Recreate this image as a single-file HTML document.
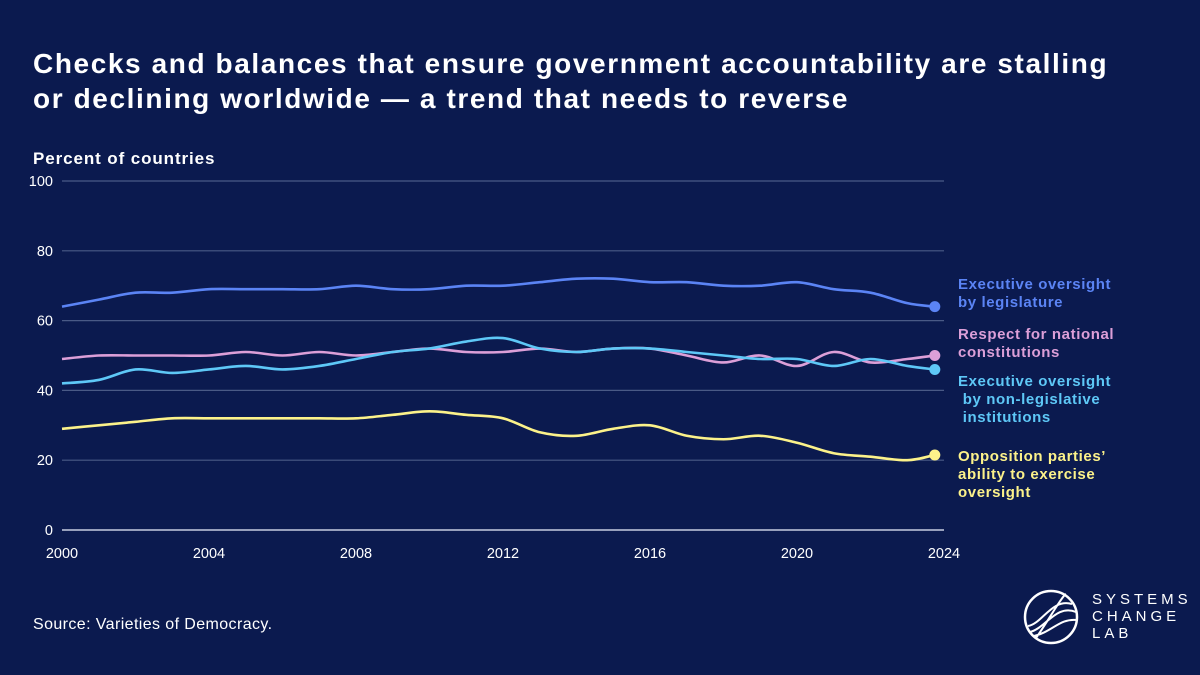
<!DOCTYPE html>
<html><head><meta charset="utf-8">
<style>
body{margin:0;width:1200px;height:675px;background:#0b1a4f;font-family:"Liberation Sans",sans-serif;overflow:hidden;position:relative;color:#fff}
h1{position:absolute;left:33px;top:46px;margin:0;font-size:28px;line-height:35px;font-weight:bold;letter-spacing:1.6px;white-space:nowrap}
.src{position:absolute;left:33px;top:616px;font-size:16px;letter-spacing:0.4px}
.lg{position:absolute;left:958px;font-size:15px;font-weight:bold;line-height:18px;letter-spacing:0.6px;white-space:nowrap}
</style></head><body>
<h1>Checks and balances that ensure government accountability are stalling<br>or declining worldwide — a trend that needs to reverse</h1>
<svg id="c" width="1200" height="675" style="position:absolute;left:0;top:0"></svg>
<div class="lg" style="top:276px;color:#5b84f5">Executive oversight<br>by legislature</div>
<div class="lg" style="top:326px;color:#dc9fd8">Respect for national<br>constitutions</div>
<div class="lg" style="top:373px;color:#5ec8f7">Executive oversight<br>&nbsp;by non-legislative<br>&nbsp;institutions</div>
<div class="lg" style="top:448px;color:#fcf28a">Opposition parties’<br>ability to exercise<br>oversight</div>
<div class="src">Source: Varieties of Democracy.</div>
<svg width="60" height="60" style="position:absolute;left:1022px;top:588px">
<circle cx="29" cy="29" r="26" fill="none" stroke="#fff" stroke-width="2.5"/>
<path d="M6 38 C20 36 30 10 50 16 M8 44 C24 40 34 16 54 24 M14 50 C28 30 40 8 44 6 M12 48 C30 44 38 30 55 32" fill="none" stroke="#fff" stroke-width="2"/>
</svg>
<div style="position:absolute;left:1092px;top:591px;font-size:15px;letter-spacing:4px;line-height:17px">SYSTEMS<br>CHANGE<br>LAB</div>
<script>
const years=[2000,2001,2002,2003,2004,2005,2006,2007,2008,2009,2010,2011,2012,2013,2014,2015,2016,2017,2018,2019,2020,2021,2022,2023,2023.75];
const execLeg=[64,66,68,68,69,69,69,69,70,69,69,70,70,71,72,72,71,71,70,70,71,69,68,65,64];
const respect=[49,50,50,50,50,51,50,51,50,51,52,51,51,52,51,52,52,50,48,50,47,51,48,49,50];
const nonLeg=[42,43,46,45,46,47,46,47,49,51,52,54,55,52,51,52,52,51,50,49,49,47,49,47,46];
const opposition=[29,30,31,32,32,32,32,32,32,33,34,33,32,28,27,29,30,27,26,27,25,22,21,20,21.5];
const yTicks=[0,20,40,60,80,100];
const xTicks=[2000,2004,2008,2012,2016,2020,2024];
const svg=document.getElementById('c');const NS='http://www.w3.org/2000/svg';
const X=y=>62+(y-2000)*(944-62)/24;
const Y=v=>530-v*3.49;
function mk(t,a){const e=document.createElementNS(NS,t);for(const k in a)e.setAttribute(k,a[k]);svg.appendChild(e);return e;}
let t=mk('text',{x:33,y:164,fill:'#fff','font-size':17,'font-weight':'bold','letter-spacing':0.9});t.textContent='Percent of countries';


yTicks.forEach(v=>{
 const l=mk('line',{x1:62,x2:944,y1:Y(v),y2:Y(v),stroke:v===0?'#c8cde0':'#4a5a86','stroke-width':v===0?1.5:1.2});
 
 
 const s=mk('text',{x:53,y:Y(v)+5,fill:'#fff','font-size':14.5,'text-anchor':'end'});s.textContent=v;
 
 
});
xTicks.forEach(v=>{
 const s=mk('text',{x:X(v),y:558,fill:'#fff','font-size':14.5,'text-anchor':'middle'});s.textContent=v;
 
 
});
function path(vals){const p=vals.map((v,i)=>[X(years[i]),Y(v)]);let d='M'+p[0];
 for(let i=0;i<p.length-1;i++){const p0=p[i-1]||p[i],p1=p[i],p2=p[i+1],p3=p[i+2]||p2;
  const c1=[p1[0]+(p2[0]-p0[0])/6,p1[1]+(p2[1]-p0[1])/6],c2=[p2[0]-(p3[0]-p1[0])/6,p2[1]-(p3[1]-p1[1])/6];
  d+='C'+c1+' '+c2+' '+p2;}return d;}
[[execLeg,'#5b84f5','line-exec-legislature'],[respect,'#dc9fd8','line-constitutions'],[nonLeg,'#5ec8f7','line-exec-nonlegislative'],[opposition,'#fcf28a','line-opposition']].forEach(([vals,c,n])=>{
 const p=mk('path',{d:path(vals),fill:'none',stroke:c,'stroke-width':2.6});
 
 
 const last=vals.length-1;
 const d=mk('circle',{cx:X(years[last]),cy:Y(vals[last]),r:5.5,fill:c});
 
 
});
</script>
</body></html>
